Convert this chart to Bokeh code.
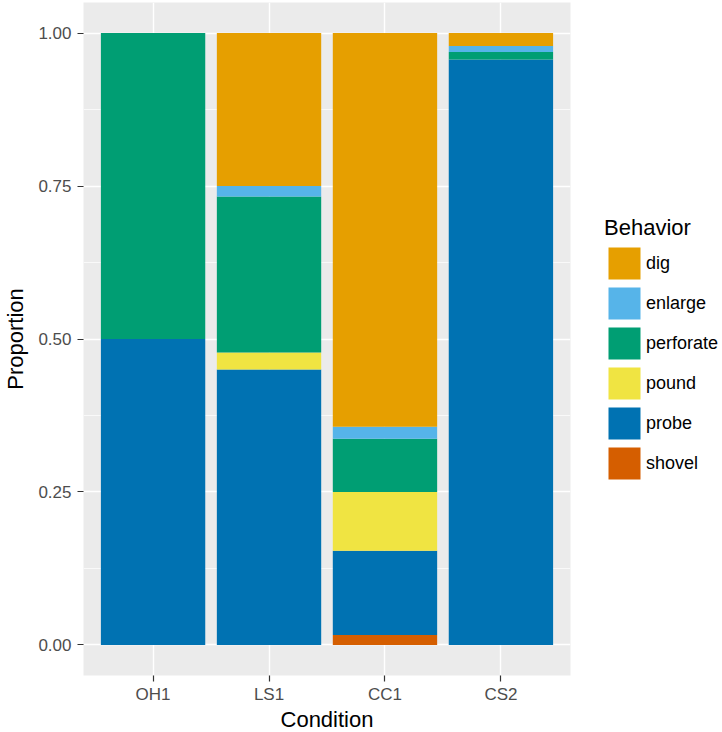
from bokeh.plotting import figure
from bokeh.models import (ColumnDataSource, FactorRange, FixedTicker, PrintfTickFormatter,
                          Legend, LegendItem, Range1d)
from bokeh.embed import file_html
from bokeh.resources import INLINE

conditions = ["OH1", "LS1", "CC1", "CS2"]
behaviors = ["shovel", "probe", "pound", "perforate", "enlarge", "dig"]
dig = [0.0, 0.25, 0.6435, 0.021]
enlarge = [0.0, 0.017, 0.0195, 0.010]
perforate = [0.5, 0.255, 0.087, 0.012]
pound = [0.0, 0.028, 0.096, 0.0]
probe = [0.5, 0.45, 0.138, 0.957]
shovel = [0.0, 0.0, 0.016, 0.0]
colors = {"dig": "#E69F00", "enlarge": "#56B4E9", "perforate": "#009E73",
          "pound": "#F0E442", "probe": "#0072B2", "shovel": "#D55E00"}
y_ticks = [0, 0.25, 0.5, 0.75, 1.0]

source = ColumnDataSource(data=dict(condition=conditions, dig=dig, enlarge=enlarge,
                                    perforate=perforate, pound=pound, probe=probe, shovel=shovel))

FONT = "Liberation Sans"
p = figure(width=720, height=731, frame_width=487, frame_height=673,
           output_backend="svg", toolbar_location=None,
           x_range=FactorRange(*conditions, range_padding=0.1, range_padding_units="absolute"),
           y_range=Range1d(-0.05, 1.05),
           min_border_left=81, min_border_right=0, min_border_top=2, min_border_bottom=54)

renderers = p.vbar_stack(behaviors, x="condition", width=0.9, source=source,
                         color=[colors[b] for b in behaviors], line_color=None)

p.background_fill_color = "#EBEBEB"
p.border_fill_color = "white"
p.outline_line_color = None

p.xgrid.grid_line_color = "white"
p.xgrid.grid_line_width = 1.4
p.ygrid.grid_line_color = "white"
p.ygrid.grid_line_width = 1.4
p.ygrid.minor_grid_line_color = "white"
p.ygrid.minor_grid_line_width = 0.7

p.yaxis.ticker = FixedTicker(ticks=y_ticks, minor_ticks=[0.125, 0.375, 0.625, 0.875])
p.yaxis.formatter = PrintfTickFormatter(format="%.2f")

for ax in (p.xaxis[0], p.yaxis[0]):
    ax.axis_line_color = None
    ax.major_tick_line_color = "#333333"
    ax.major_tick_line_width = 1.2
    ax.major_tick_in = 0
    ax.major_tick_out = 6
    ax.minor_tick_line_color = None
    ax.major_label_text_color = "#4D4D4D"
    ax.major_label_text_font = FONT
    ax.major_label_text_font_size = "17px"
    ax.axis_label_text_font = FONT
    ax.axis_label_text_font_size = "22px"
    ax.axis_label_text_font_style = "normal"
    ax.axis_label_text_color = "black"

p.xaxis.major_label_standoff = 3
p.yaxis.major_label_standoff = 6
p.xaxis.axis_label_standoff = 0
p.yaxis.axis_label_standoff = 7
p.xaxis.axis_label = "Condition"
p.yaxis.axis_label = "Proportion"

items = [LegendItem(label=b, renderers=[r]) for b, r in zip(behaviors, renderers)][::-1]
legend = Legend(items=items, title="Behavior", location=(34, 192),
                glyph_width=40, glyph_height=40, spacing=-4, label_standoff=2,
                label_text_font=FONT, label_text_font_size="18px", label_text_color="black",
                title_text_font=FONT, title_text_font_size="22px", title_text_font_style="normal",
                title_text_color="black",
                title_standoff=2, border_line_color=None, background_fill_alpha=0,
                padding=0, margin=0)
p.add_layout(legend, "right")

open("out.html", "w").write(file_html(p, INLINE))
